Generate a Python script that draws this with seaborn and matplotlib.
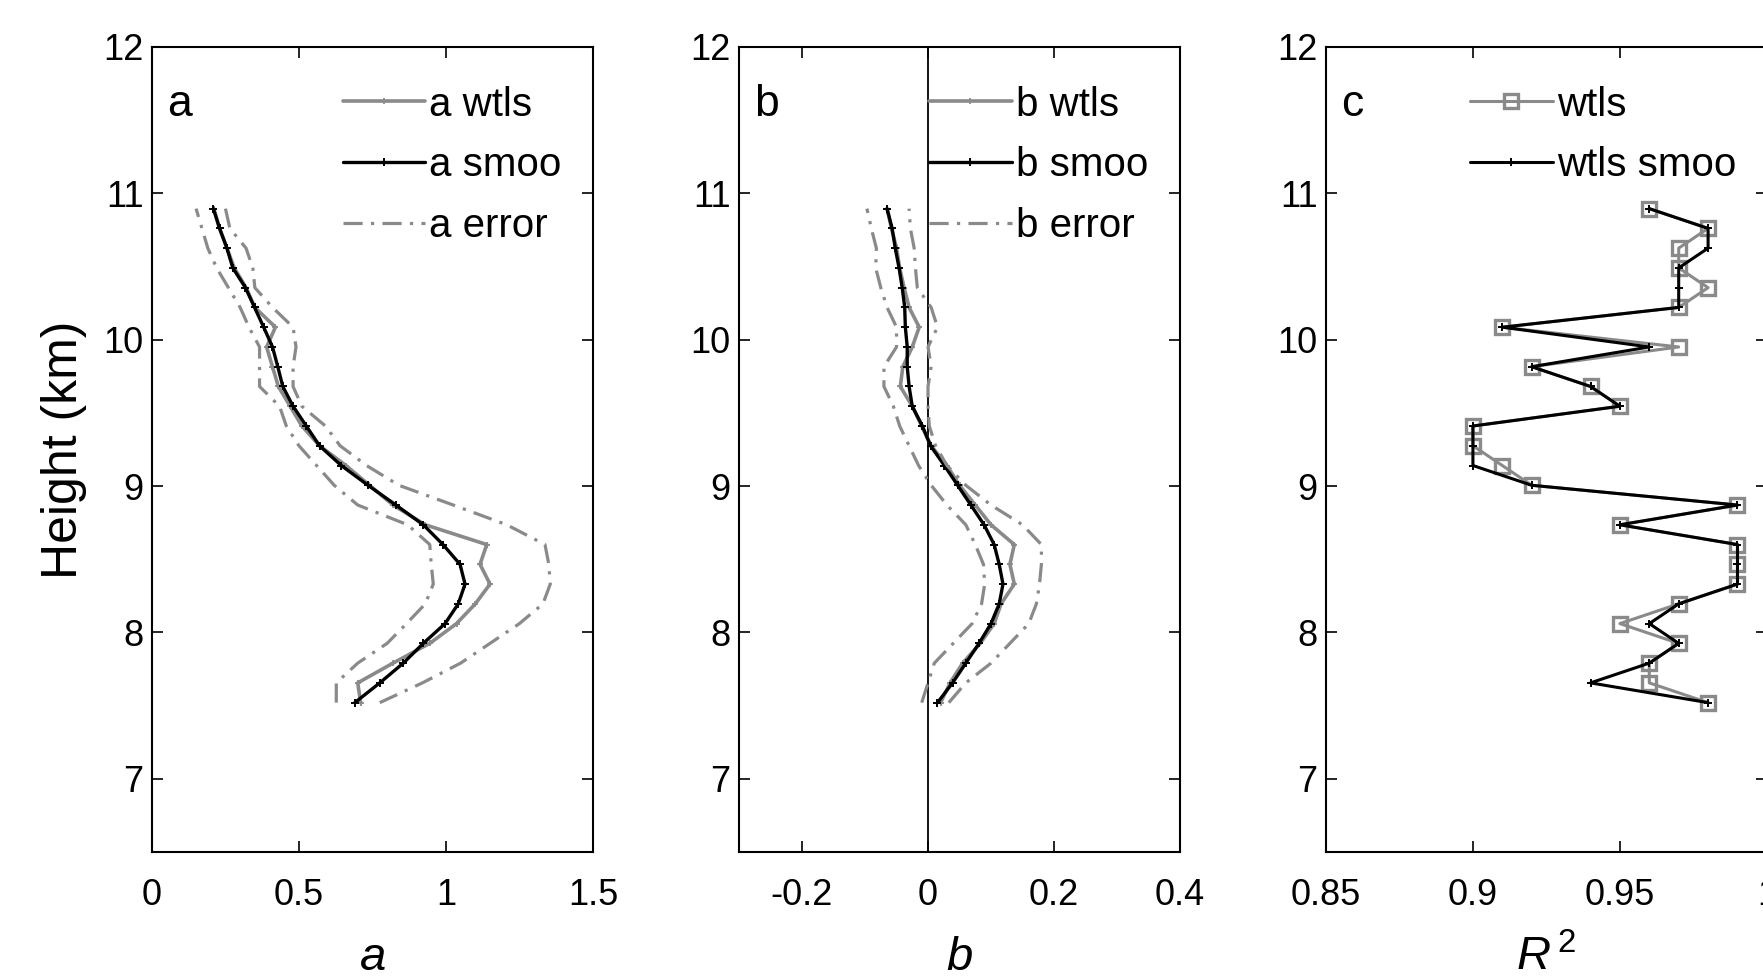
import matplotlib

matplotlib.use("Agg")
import matplotlib.pyplot as plt
import seaborn as sns


# heights of the retrieval levels (km), bottom to top
HEIGHT_KM = [7.52, 7.655, 7.79, 7.925, 8.06, 8.195, 8.33, 8.465, 8.60, 8.735,
             8.87, 9.005, 9.14, 9.275, 9.41, 9.545, 9.68, 9.815, 9.95, 10.085,
             10.22, 10.355, 10.49, 10.625, 10.76, 10.895]

# panel a: coefficient a
A_WTLS = [0.71, 0.70, 0.82, 0.945, 1.036, 1.10, 1.15, 1.116, 1.139, 0.93,
          0.82, 0.74, 0.66, 0.57, 0.51, 0.47, 0.43, 0.41, 0.39, 0.42,
          0.35, 0.32, 0.28, 0.255, 0.23, 0.21]
A_SMOO = [0.69, 0.775, 0.855, 0.923, 0.997, 1.042, 1.065, 1.048, 0.99, 0.923,
          0.83, 0.735, 0.644, 0.57, 0.525, 0.48, 0.445, 0.428, 0.41, 0.38,
          0.349, 0.318, 0.275, 0.255, 0.23, 0.209]
A_LOWER = [0.627, 0.627, 0.70, 0.80, 0.866, 0.93, 0.957, 0.95, 0.945, 0.87,
           0.70, 0.62, 0.56, 0.50, 0.457, 0.434, 0.366, 0.366, 0.366, 0.33,
           0.30, 0.26, 0.22, 0.19, 0.17, 0.15]
A_UPPER = [0.775, 0.92, 1.05, 1.15, 1.25, 1.33, 1.355, 1.35, 1.337, 1.207,
           1.025, 0.84, 0.73, 0.64, 0.59, 0.51, 0.48, 0.48, 0.49, 0.48,
           0.41, 0.35, 0.343, 0.32, 0.265, 0.25]

# panel b: coefficient b
B_WTLS = [0.02, 0.035, 0.055, 0.083, 0.105, 0.116, 0.137, 0.13, 0.137, 0.10,
          0.075, 0.05, 0.03, 0.005, -0.01, -0.025, -0.044, -0.04, -0.025, -0.014,
          -0.03, -0.038, -0.045, -0.05, -0.058, -0.065]
B_SMOO = [0.015, 0.039, 0.06, 0.081, 0.10, 0.113, 0.119, 0.113, 0.105, 0.089,
          0.068, 0.047, 0.026, 0.004, -0.009, -0.025, -0.030, -0.033, -0.033, -0.036,
          -0.037, -0.041, -0.046, -0.052, -0.057, -0.065]
B_LOWER = [-0.01, 0.0, 0.01, 0.04, 0.07, 0.085, 0.09, 0.088, 0.075, 0.06,
           0.03, 0.005, -0.015, -0.03, -0.045, -0.055, -0.07, -0.07, -0.05, -0.05,
           -0.065, -0.075, -0.083, -0.082, -0.09, -0.097]
B_UPPER = [0.033, 0.06, 0.10, 0.13, 0.16, 0.172, 0.177, 0.18, 0.18, 0.15,
           0.10, 0.06, 0.03, 0.012, 0.002, 0.0, 0.0, 0.005, 0.0, 0.015,
           0.005, -0.017, -0.02, -0.022, -0.028, -0.03]

# panel c: goodness of fit
R2_WTLS = [0.98, 0.96, 0.96, 0.97, 0.95, 0.97, 0.99, 0.99, 0.99, 0.95,
           0.99, 0.92, 0.91, 0.90, 0.90, 0.95, 0.94, 0.92, 0.97, 0.91,
           0.97, 0.98, 0.97, 0.97, 0.98, 0.96]
R2_SMOO = [0.98, 0.94, 0.96, 0.97, 0.96, 0.97, 0.99, 0.99, 0.99, 0.95,
           0.99, 0.92, 0.90, 0.90, 0.90, 0.95, 0.94, 0.92, 0.96, 0.91,
           0.97, 0.97, 0.97, 0.98, 0.98, 0.96]

GREY = "#8a8a8a"
TICK_SIZE = 26
LEGEND_SIZE = 29
DASHDOT = (0, (6, 2.6, 1, 2.6))


def profile(ax, values, label, color, lw, **kw):
    sns.lineplot(x=values, y=HEIGHT_KM, ax=ax, sort=False, estimator=None,
                 color=color, linewidth=lw, label=label, **kw)


def style_axes(ax, xlim, xticks, xticklabels, xlabel, letter):
    ax.set_ylim(6.5, 12)
    ax.set_yticks([7, 8, 9, 10, 11, 12])
    ax.set_yticklabels(["7", "8", "9", "10", "11", "12"])
    ax.set_xlim(*xlim)
    ax.set_xticks(xticks)
    ax.set_xticklabels(xticklabels)
    ax.tick_params(direction="in", top=True, right=True, length=8, width=1.2,
                   labelsize=TICK_SIZE, color="black", labelcolor="black")
    ax.tick_params(axis="x", pad=19)
    ax.tick_params(axis="y", pad=6)
    ax.set_xlabel(xlabel, fontsize=34, labelpad=16, color="black")
    ax.set_ylabel("")
    ax.text(0.035, 0.928, letter, transform=ax.transAxes, fontsize=32,
            va="center", ha="left", color="black")
    for spine in ax.spines.values():
        spine.set_linewidth(1.5)
        spine.set_color("black")


def add_legend(ax, x0):
    leg = ax.legend(loc="upper left", bbox_to_anchor=(x0, 0.952), frameon=False,
                    fontsize=LEGEND_SIZE, handlelength=2.05, handletextpad=0.1,
                    labelspacing=0.56, borderpad=0, borderaxespad=0, numpoints=1,
                    labelcolor="black")
    return leg


def main() -> None:
    sns.set_style("ticks")
    plt.rcParams["font.family"] = ["Liberation Sans", "DejaVu Sans"]
    plt.rcParams["mathtext.fontset"] = "custom"
    plt.rcParams["mathtext.rm"] = "Liberation Sans"
    plt.rcParams["mathtext.it"] = "Liberation Sans:italic"
    plt.rcParams["text.color"] = "black"
    plt.rcParams["axes.labelcolor"] = "black"

    fig = plt.figure(figsize=(17.63, 9.77), dpi=100)
    width, height, bottom = 0.2501, 0.824, 0.128
    ax_a = fig.add_axes([0.0862, bottom, width, height])
    ax_b = fig.add_axes([0.4192, bottom, width, height])
    ax_c = fig.add_axes([0.7521, bottom, width, height])

    plus_grey = dict(marker="+", markersize=5, mew=1.3, markeredgecolor=GREY)
    plus_black = dict(marker="+", markersize=5.5, mew=1.4, markeredgecolor="black")

    # panel a
    profile(ax_a, A_WTLS, "a wtls", GREY, 2.6, **plus_grey)
    profile(ax_a, A_SMOO, "a smoo", "black", 2.4, **plus_black)
    profile(ax_a, A_LOWER, "a error", GREY, 2.3, linestyle=DASHDOT)
    profile(ax_a, A_UPPER, None, GREY, 2.3, linestyle=DASHDOT)
    style_axes(ax_a, (0, 1.5), [0, 0.5, 1, 1.5], ["0", "0.5", "1", "1.5"],
               r"$\mathit{a}$", "a")
    ax_a.set_ylabel("Height (km)", fontsize=36, labelpad=12, color="black")
    add_legend(ax_a, 0.433)

    # panel b
    ax_b.axvline(0, color="black", linewidth=1.3, zorder=1)
    profile(ax_b, B_WTLS, "b wtls", GREY, 2.6, **plus_grey)
    profile(ax_b, B_SMOO, "b smoo", "black", 2.4, **plus_black)
    profile(ax_b, B_LOWER, "b error", GREY, 2.3, linestyle=DASHDOT)
    profile(ax_b, B_UPPER, None, GREY, 2.3, linestyle=DASHDOT)
    style_axes(ax_b, (-0.3, 0.4), [-0.2, 0, 0.2, 0.4], ["-0.2", "0", "0.2", "0.4"],
               r"$\mathit{b}$", "b")
    add_legend(ax_b, 0.431)

    # panel c
    profile(ax_c, R2_WTLS, "wtls", GREY, 2.2, marker="s", markersize=10,
            markerfacecolor="none", markeredgecolor=GREY, mew=2.4)
    profile(ax_c, R2_SMOO, "wtls smoo", "black", 2.2, **plus_black)
    style_axes(ax_c, (0.85, 1.0), [0.85, 0.9, 0.95, 1.0], ["0.85", "0.9", "0.95", "1"],
               r"$\mathit{R}^{\,2}$", "c")
    add_legend(ax_c, 0.327)

    fig.savefig("out.png", dpi=100)


if __name__ == "__main__":
    main()
